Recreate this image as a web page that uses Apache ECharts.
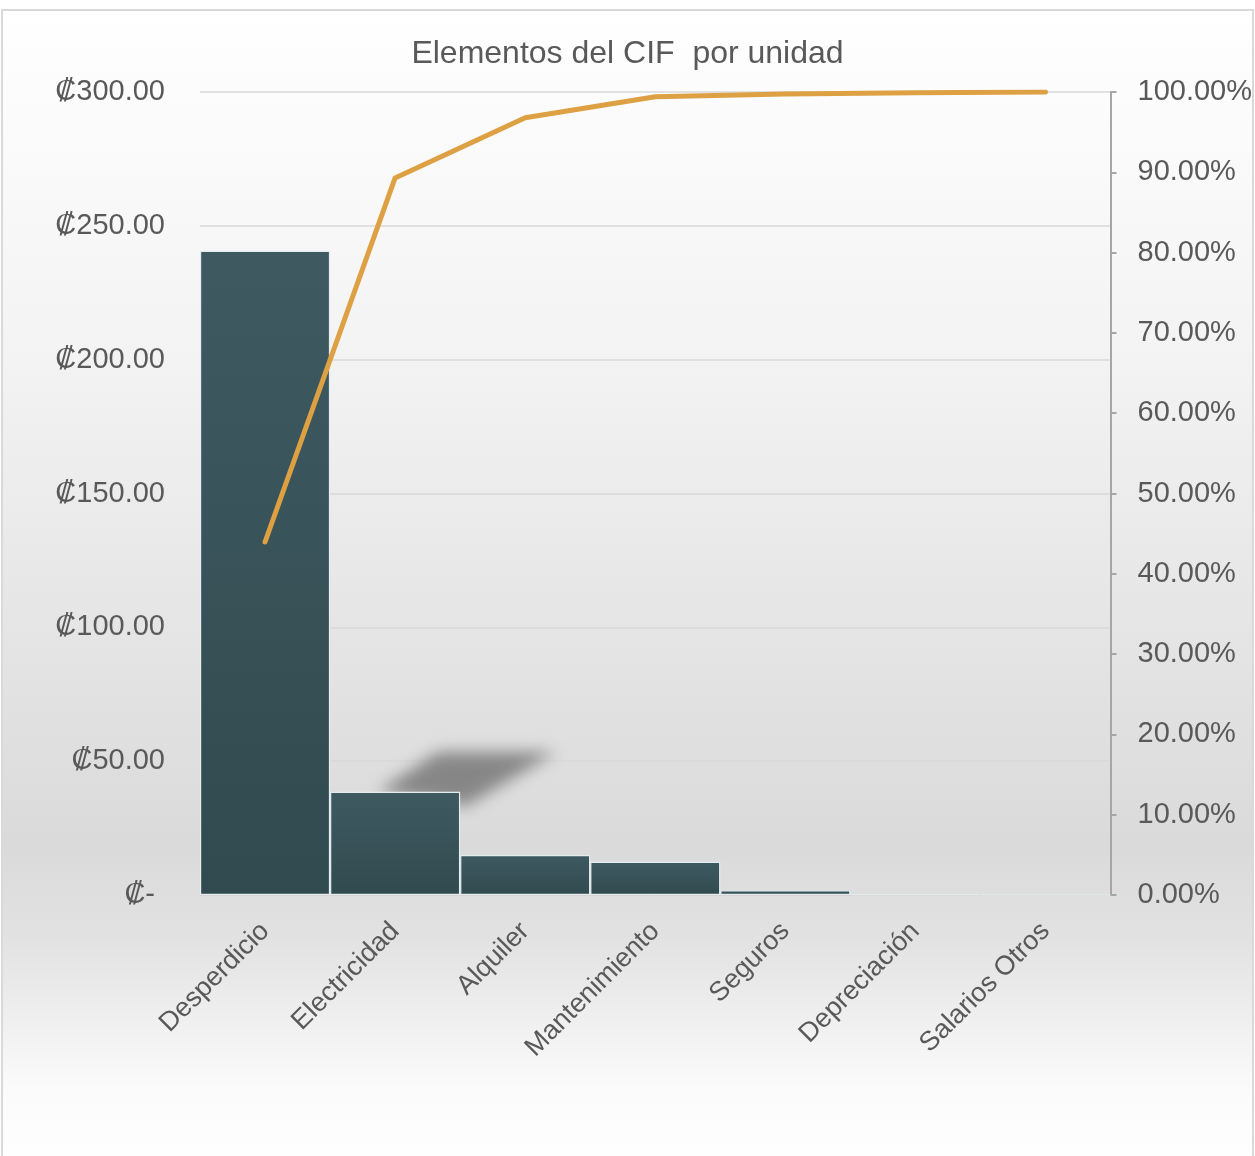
<!DOCTYPE html>
<html>
<head>
<meta charset="utf-8">
<script src="https://cdn.jsdelivr.net/npm/echarts@6/dist/echarts.min.js"></script>
<style>
html,body{margin:0;padding:0;background:#ffffff;}
#chart{width:1255px;height:1156px;}
</style>
</head>
<body>
<div id="chart"></div>
<script>
const categories = ['Desperdicio','Electricidad','Alquiler','Mantenimiento','Seguros','Depreciación','Salarios Otros'];
const costPerUnit = [240.7, 38.6, 14.9, 12.4, 1.8, 0.3, 0.15];
const cumulativePct = [43.96, 89.3, 96.8, 99.4, 99.75, 99.9, 100];
const leftTicks = {min: 0, max: 300, interval: 50};
const rightTicks = {min: 0, max: 100, interval: 10};
const titleText = 'Elementos del CIF  por unidad';

const FONT = '"Liberation Sans", "DejaVu Sans", sans-serif';
const TXT = '#595959';

const chart = echarts.init(document.getElementById('chart'), null, {renderer: 'canvas'});
chart.setOption({
  animation: false,
  backgroundColor: '#ffffff',
  graphic: [
    {
      type: 'rect', z: -10, silent: true,
      shape: {x: 2, y: 10, width: 1251, height: 1160},
      style: {
        fill: new echarts.graphic.LinearGradient(0, 0, 0, 1, [
          {offset: 0, color: '#ffffff'},
          {offset: 0.3, color: '#f3f3f3'},
          {offset: 0.72, color: '#dadada'},
          {offset: 0.8, color: '#e2e2e2'},
          {offset: 0.93, color: '#fbfbfb'},
          {offset: 1, color: '#ffffff'}
        ]),
        stroke: '#d9d9d9', lineWidth: 2
      }
    },
    {
      type: 'polygon', z: 1, silent: true,
      shape: {points: [[378 - 3000, 792], [438 - 3000, 752], [556 - 3000, 752], [466 - 3000, 806]]},
      style: {fill: '#999999', shadowBlur: 16, shadowOffsetX: 3000, shadowOffsetY: 0, shadowColor: 'rgba(130,130,130,0.95)'}
    }
  ],
  title: {
    text: titleText,
    left: 'center',
    top: 33,
    textStyle: {fontFamily: FONT, fontSize: 32, fontWeight: 'normal', color: TXT}
  },
  grid: {left: 200, right: 144, top: 92, bottom: 261, containLabel: false},
  xAxis: {
    type: 'category',
    data: categories,
    axisLine: {show: true, lineStyle: {color: '#d4d4d4', width: 1}},
    axisTick: {show: false},
    axisLabel: {
      rotate: 45, margin: 32, interval: 0,
      fontFamily: FONT, fontSize: 27, color: TXT
    }
  },
  yAxis: [
    {
      type: 'value',
      min: leftTicks.min, max: leftTicks.max, interval: leftTicks.interval,
      axisLine: {show: false},
      axisTick: {show: false},
      splitLine: {show: true, lineStyle: {color: '#d9d9d9', width: 1.5}},
      axisLabel: {
        margin: 35,
        fontFamily: FONT, fontSize: 29, color: TXT,
        formatter: v => v === 0 ? '{z|₡-}' : '₡' + v.toFixed(2),
        rich: {z: {fontFamily: FONT, fontSize: 29, color: TXT, padding: [0, 10, 0, 0]}}
      }
    },
    {
      type: 'value',
      position: 'right',
      min: rightTicks.min, max: rightTicks.max, interval: rightTicks.interval,
      axisLine: {show: true, lineStyle: {color: '#a6a6a6', width: 2}},
      axisTick: {show: true, inside: false, length: 6, lineStyle: {color: '#a6a6a6', width: 2}},
      splitLine: {show: false},
      axisLabel: {
        margin: 27,
        fontFamily: FONT, fontSize: 29, color: TXT,
        formatter: v => v.toFixed(2) + '%'
      }
    }
  ],
  series: [
    {
      type: 'bar',
      data: costPerUnit,
      yAxisIndex: 0,
      barWidth: '100%',
      z: 2,
      itemStyle: {
        color: new echarts.graphic.LinearGradient(0, 0, 0, 1, [
          {offset: 0, color: '#3e5a60'},
          {offset: 1, color: '#314a50'}
        ]),
        borderColor: '#e4ecee',
        borderWidth: 1.2
      }
    },
    {
      type: 'line',
      data: cumulativePct,
      yAxisIndex: 1,
      z: 3,
      symbol: 'none',
      lineStyle: {color: '#dda043', width: 5, cap: 'round', join: 'round'},
      itemStyle: {color: '#dda043'}
    }
  ]
});
</script>
</body>
</html>
